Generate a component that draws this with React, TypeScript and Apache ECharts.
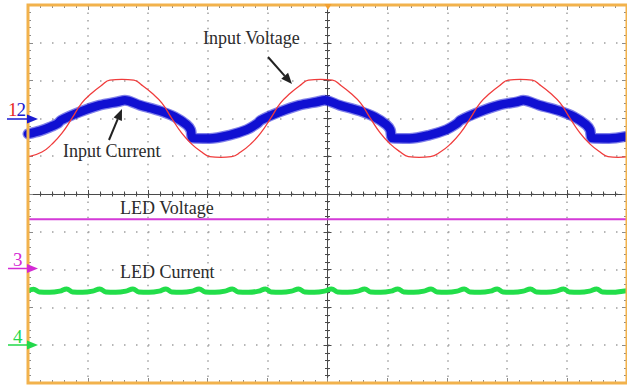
import React, { useEffect, useRef } from "react";
import * as echarts from "echarts";

// Oscilloscope screen: 10 horizontal x 10 vertical divisions, centre = (5, 0)
const X_MIN = 0;
const X_MAX = 10;
const Y_MIN = -5;
const Y_MAX = 5;

// Channel 1 – Input Voltage (red), [division, division]
const inputVoltage: [number, number][] = [
  [0, 0.98], [0.233, 1.11], [0.4, 1.32], [0.567, 1.61], [0.733, 2.0], [0.9, 2.41],
  [1.067, 2.67], [1.233, 2.88], [1.367, 3.01], [1.567, 3.03], [1.767, 3.01], [1.9, 2.88], [2.067, 2.67],
  [2.233, 2.41], [2.4, 2.0], [2.567, 1.61], [2.733, 1.32], [2.9, 1.11], [3.033, 0.99],
  [3.22, 0.97], [3.4, 0.99], [3.55, 1.11], [3.717, 1.32], [3.883, 1.61], [4.05, 2.0], [4.217, 2.41],
  [4.383, 2.67], [4.55, 2.88], [4.683, 3.01], [4.883, 3.03], [5.083, 3.01], [5.217, 2.88], [5.383, 2.67],
  [5.55, 2.41], [5.717, 2.0], [5.883, 1.61], [6.05, 1.32], [6.217, 1.11], [6.35, 0.99],
  [6.53, 0.97], [6.717, 0.99], [6.883, 1.11], [7.05, 1.32], [7.217, 1.61], [7.383, 2.0], [7.55, 2.41],
  [7.717, 2.67], [7.883, 2.88], [8.017, 3.01], [8.217, 3.03], [8.417, 3.01], [8.55, 2.88], [8.717, 2.67],
  [8.883, 2.41], [9.05, 2.0], [9.217, 1.61], [9.383, 1.32], [9.55, 1.11], [9.683, 0.99],
  [9.85, 0.97], [10, 0.98],
];

// Channel 2 – Input Current (blue)
const inputCurrent: [number, number][] = [
  [0, 1.59], [0.2, 1.67], [0.367, 1.77], [0.5, 1.87], [0.55, 1.95], [0.867, 2.17],
  [1.2, 2.35], [1.5, 2.44], [1.617, 2.48], [1.867, 2.35], [2.2, 2.2], [2.45, 2.04],
  [2.65, 1.83], [2.717, 1.69], [2.75, 1.48], [3.033, 1.47], [3.367, 1.56], [3.65, 1.7],
  [3.833, 1.87], [3.883, 1.95], [4.2, 2.17], [4.533, 2.35], [4.833, 2.44], [4.95, 2.48],
  [5.2, 2.35], [5.533, 2.2], [5.783, 2.04], [5.983, 1.83], [6.05, 1.69], [6.083, 1.48],
  [6.367, 1.47], [6.7, 1.56], [6.983, 1.7], [7.167, 1.87], [7.217, 1.95], [7.533, 2.17],
  [7.867, 2.35], [8.167, 2.44], [8.267, 2.48], [8.533, 2.35], [8.867, 2.2], [9.117, 2.04],
  [9.317, 1.83], [9.383, 1.69], [9.417, 1.48], [9.7, 1.47], [10, 1.53],
];

// Channel 3 – LED Voltage (magenta)
const ledVoltage: [number, number][] = [
  [0, -0.67], [2.5, -0.67], [5, -0.665], [7.5, -0.67], [10, -0.67],
];

// Channel 4 – LED Current (green)
const ledCurrent: [number, number][] = [
  [0, -2.56],
  [0.092, -2.52], [0.19, -2.59], [0.36, -2.6],
  [0.53, -2.57], [0.645, -2.51], [0.745, -2.59], [0.91, -2.6],
  [1.08, -2.57], [1.198, -2.51], [1.3, -2.59], [1.465, -2.6],
  [1.635, -2.57], [1.752, -2.51], [1.85, -2.59], [2.02, -2.6],
  [2.19, -2.57], [2.303, -2.51], [2.4, -2.59], [2.57, -2.6],
  [2.74, -2.57], [2.857, -2.51], [2.96, -2.59], [3.12, -2.6],
  [3.29, -2.57], [3.41, -2.51], [3.51, -2.59], [3.68, -2.6],
  [3.85, -2.57], [3.963, -2.51], [4.06, -2.59], [4.23, -2.6],
  [4.4, -2.57], [4.517, -2.51], [4.62, -2.59], [4.78, -2.6],
  [4.95, -2.57], [5.068, -2.51], [5.17, -2.59], [5.335, -2.6],
  [5.505, -2.57], [5.622, -2.51], [5.72, -2.59], [5.89, -2.6],
  [6.06, -2.57], [6.175, -2.51], [6.275, -2.59], [6.44, -2.6],
  [6.61, -2.57], [6.728, -2.51], [6.83, -2.59], [6.995, -2.6],
  [7.165, -2.57], [7.282, -2.51], [7.38, -2.59], [7.55, -2.6],
  [7.72, -2.57], [7.833, -2.51], [7.93, -2.59], [8.1, -2.6],
  [8.27, -2.57], [8.387, -2.51], [8.49, -2.59], [8.655, -2.6],
  [8.82, -2.57], [8.94, -2.51], [9.04, -2.59], [9.21, -2.6],
  [9.375, -2.57], [9.493, -2.51], [9.59, -2.59], [9.76, -2.6],
  [9.93, -2.57], [10, -2.56],
];

const annotations = ["Input Voltage", "Input Current", "LED Voltage", "LED Current"];

const SERIF = '"Liberation Serif", "DejaVu Serif", serif';
const GRID = { left: 28, top: 5, width: 600, height: 378 };
const TICK = "#8a8a8a";
const DOT = "#a0a0a0";
const CROSS = "#4a4a4a";

function borderAxis(pos: string, idx: number, split: boolean, dash: number[]) {
  return {
    gridIndex: idx,
    type: "value",
    position: pos,
    axisLine: { show: false, onZero: false },
    axisLabel: { show: false },
    axisTick: { show: true, inside: true, length: 5, lineStyle: { color: TICK, width: 1 } },
    minorTick: { show: true, splitNumber: 5, length: 3, lineStyle: { color: TICK, width: 1 } },
    splitLine: { show: split, lineStyle: { color: DOT, width: 1.5, type: dash } },
  };
}

function crossAxis(idx: number, inside: boolean) {
  return {
    gridIndex: idx,
    type: "value",
    min: -5,
    max: 5,
    interval: 1,
    axisLine: { show: true, onZero: true, lineStyle: { color: CROSS, width: 1 } },
    axisLabel: { show: false },
    axisTick: { show: true, inside, length: 4, lineStyle: { color: CROSS, width: 1 } },
    minorTick: { show: true, splitNumber: 5, length: 2.5, lineStyle: { color: CROSS, width: 1 } },
    splitLine: { show: false },
  };
}

export default function App() {
  const ref = useRef<HTMLDivElement>(null);

  useEffect(() => {
    if (!ref.current) return;
    const chart = echarts.init(ref.current, undefined, { renderer: "svg" });

    const textStyle = (t: string, x: number, y: number, fill = "#2b2b2b", size = 18) => ({
      type: "text",
      x,
      y,
      z: 100,
      style: { text: t, fill, font: `${size}px ${SERIF}`, align: "left", verticalAlign: "middle" },
    });

    const arrow = (x1: number, y1: number, bx: number, by: number, pts: number[][], color: string, w = 2) => [
      { type: "line", z: 100, shape: { x1, y1, x2: bx, y2: by }, style: { stroke: color, lineWidth: w } },
      { type: "polygon", z: 100, shape: { points: pts }, style: { fill: color } },
    ];

    const option: any = {
      animation: false,
      backgroundColor: "#ffffff",
      grid: [
        { ...GRID, show: true, borderColor: "#f2b24c", borderWidth: 3, backgroundColor: "transparent", z: 10 },
        { ...GRID },
        { ...GRID },
      ],
      xAxis: [
        { ...borderAxis("bottom", 0, true, [1.5, 6.06]), min: X_MIN, max: X_MAX, interval: 1 },
        { ...borderAxis("top", 0, false, [1.5, 6.06]), min: X_MIN, max: X_MAX, interval: 1 },
        crossAxis(1, false),
        crossAxis(2, true),
      ],
      yAxis: [
        { ...borderAxis("left", 0, true, [1.5, 10.5]), min: Y_MIN, max: Y_MAX, interval: 1 },
        { ...borderAxis("right", 0, false, [1.5, 10.5]), min: Y_MIN, max: Y_MAX, interval: 1 },
        crossAxis(1, false),
        crossAxis(2, true),
      ],
      series: [
        {
          type: "line",
          xAxisIndex: 0,
          yAxisIndex: 0,
          data: inputCurrent,
          symbol: "none",
          smooth: 0.3,
          lineStyle: { color: "#1818d8", width: 11, opacity: 0.55, join: "round", cap: "round" },
          z: 3,
        },
        {
          type: "line",
          xAxisIndex: 0,
          yAxisIndex: 0,
          data: inputCurrent,
          symbol: "none",
          smooth: 0.3,
          lineStyle: { color: "#1010d2", width: 8.5, join: "round", cap: "round" },
          z: 3,
        },
        {
          type: "line",
          xAxisIndex: 0,
          yAxisIndex: 0,
          data: inputVoltage,
          symbol: "none",
          smooth: 0.5,
          lineStyle: { color: "#f03c3c", width: 1.3 },
          z: 4,
        },
        {
          type: "line",
          xAxisIndex: 0,
          yAxisIndex: 0,
          data: ledVoltage,
          symbol: "none",
          lineStyle: { color: "#d43ad8", width: 2 },
          z: 4,
        },
        {
          type: "line",
          xAxisIndex: 0,
          yAxisIndex: 0,
          data: ledCurrent,
          symbol: "none",
          smooth: 0.4,
          lineStyle: { color: "#22de4a", width: 5, join: "round" },
          z: 4,
        },
      ],
      graphic: [
        // annotations
        textStyle(annotations[0], 203, 38),
        textStyle(annotations[1], 63, 151),
        textStyle(annotations[2], 120, 208),
        textStyle(annotations[3], 120, 272),
        ...arrow(268, 57, 284.7, 75.8, [[292, 84], [281.3, 78.8], [288.1, 72.8]], "#222222"),
        ...arrow(109, 140, 117.7, 119.1, [[122, 109], [121.9, 120.9], [113.6, 117.4]], "#222222"),
        // trigger marker
        { type: "polygon", z: 100, shape: { points: [[324.5, 4], [331.5, 4], [328, 10]] }, style: { fill: "#f2a030" } },
        // channel 1/2 reference marker
        textStyle("1", 8, 109.5, "#e82828", 19),
        textStyle("2", 16.5, 109.5, "#1a1ad0", 19),
        { type: "line", z: 100, shape: { x1: 7, y1: 119, x2: 29, y2: 119 }, style: { stroke: "#1a1ad0", lineWidth: 1.5 } },
        { type: "polygon", z: 100, shape: { points: [[27, 114.5], [38, 119], [27, 123.5]] }, style: { fill: "#1a1ad0" } },
        // channel 3 marker
        textStyle("3", 13, 259.5, "#d42ad4", 19),
        { type: "line", z: 100, shape: { x1: 8, y1: 268.5, x2: 29, y2: 268.5 }, style: { stroke: "#d42ad4", lineWidth: 1.5 } },
        { type: "polygon", z: 100, shape: { points: [[27, 264], [38, 268.5], [27, 273]] }, style: { fill: "#d42ad4" } },
        // channel 4 marker
        textStyle("4", 13, 336.5, "#22d84a", 19),
        { type: "line", z: 100, shape: { x1: 8, y1: 345, x2: 29, y2: 345 }, style: { stroke: "#22d84a", lineWidth: 1.5 } },
        { type: "polygon", z: 100, shape: { points: [[27, 340.5], [38, 345], [27, 349.5]] }, style: { fill: "#22d84a" } },
      ],
    };

    chart.setOption(option);
    return () => chart.dispose();
  }, []);

  return (
    <div
      ref={ref}
      style={{ position: "fixed", left: 0, top: 0, width: 627, height: 385, background: "#fff" }}
    />
  );
}
